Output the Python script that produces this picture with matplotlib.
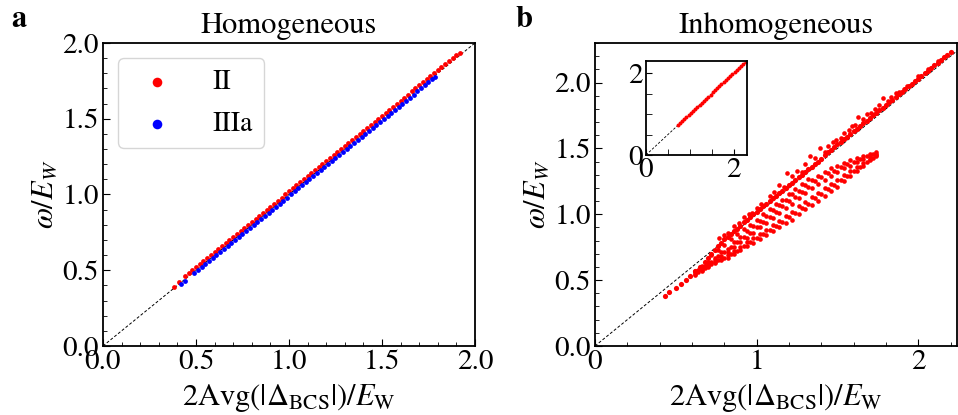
"""Gap vs. collective-mode energy, homogeneous and inhomogeneous cases."""

import matplotlib as mpl
import matplotlib.pyplot as plt
from matplotlib.ticker import FormatStrFormatter, MultipleLocator

RED = "#ff0000"
BLUE = "#0000ff"

# panel a: homogeneous, two solution classes
hom_II_x = [0.38, 0.41, 0.44, 0.46, 0.48, 0.50, 0.52, 0.54, 0.56, 0.58, 0.60,
            0.62, 0.64, 0.66, 0.68, 0.70, 0.72, 0.74, 0.76, 0.78, 0.80, 0.82,
            0.84, 0.86, 0.88, 0.90, 0.92, 0.94, 0.96, 0.98, 1.00, 1.02, 1.04,
            1.06, 1.08, 1.10, 1.12, 1.14, 1.16, 1.18, 1.20, 1.22, 1.24, 1.26,
            1.28, 1.30, 1.32, 1.34, 1.36, 1.38, 1.40, 1.42, 1.44, 1.46, 1.48,
            1.50, 1.52, 1.54, 1.56, 1.58, 1.60, 1.62, 1.64, 1.66, 1.68, 1.70,
            1.72, 1.74, 1.76, 1.78, 1.80, 1.82, 1.84, 1.86, 1.88, 1.90, 1.92]
hom_II_y = [0.39, 0.42, 0.46, 0.48, 0.50, 0.52, 0.54, 0.56, 0.58, 0.60, 0.62,
            0.64, 0.66, 0.68, 0.70, 0.72, 0.74, 0.76, 0.78, 0.80, 0.82, 0.84,
            0.86, 0.88, 0.90, 0.92, 0.94, 0.96, 0.98, 1.00, 1.02, 1.04, 1.06,
            1.08, 1.10, 1.12, 1.14, 1.16, 1.18, 1.20, 1.22, 1.24, 1.26, 1.28,
            1.30, 1.32, 1.34, 1.36, 1.38, 1.40, 1.42, 1.44, 1.46, 1.48, 1.50,
            1.52, 1.54, 1.56, 1.58, 1.60, 1.62, 1.64, 1.66, 1.68, 1.70, 1.72,
            1.74, 1.76, 1.78, 1.80, 1.82, 1.84, 1.86, 1.88, 1.90, 1.92, 1.935]
hom_IIIa_x = [0.42, 0.44, 0.49, 0.51, 0.53, 0.55, 0.57, 0.59, 0.61, 0.63,
              0.65, 0.67, 0.69, 0.71, 0.73, 0.75, 0.77, 0.79, 0.81, 0.83,
              0.85, 0.87, 0.89, 0.91, 0.93, 0.95, 0.97, 0.99, 1.01, 1.03,
              1.05, 1.07, 1.09, 1.11, 1.13, 1.15, 1.17, 1.19, 1.21, 1.23,
              1.25, 1.27, 1.29, 1.31, 1.33, 1.35, 1.37, 1.39, 1.41, 1.43,
              1.45, 1.47, 1.49, 1.51, 1.53, 1.55, 1.57, 1.59, 1.61, 1.63,
              1.65, 1.67, 1.69, 1.71, 1.73, 1.75, 1.77, 1.785]
hom_IIIa_y = [0.41, 0.43, 0.48, 0.50, 0.52, 0.54, 0.56, 0.58, 0.60, 0.62,
              0.64, 0.66, 0.68, 0.70, 0.72, 0.74, 0.76, 0.78, 0.80, 0.82,
              0.84, 0.86, 0.88, 0.90, 0.92, 0.94, 0.96, 0.98, 1.00, 1.02,
              1.04, 1.06, 1.08, 1.10, 1.12, 1.14, 1.16, 1.18, 1.20, 1.22,
              1.24, 1.26, 1.28, 1.30, 1.32, 1.34, 1.36, 1.38, 1.40, 1.42,
              1.44, 1.46, 1.48, 1.50, 1.52, 1.54, 1.56, 1.58, 1.60, 1.62,
              1.64, 1.66, 1.68, 1.70, 1.72, 1.74, 1.76, 1.775]

# panel b: inhomogeneous, upper band hugging the diagonal
inh_up_x = [0.43, 0.46, 0.50, 0.53, 0.56, 0.59, 0.62, 0.65, 0.68, 0.70, 0.72,
            0.74, 0.76, 0.78, 0.80, 0.82, 0.84, 0.86, 0.88, 0.90, 0.92, 0.94,
            0.96, 0.98, 1.00, 1.02, 1.04, 1.06, 1.08, 1.10, 1.12, 1.14, 1.16,
            1.18, 1.20, 1.22, 1.24, 1.26, 1.28, 1.30, 1.32, 1.34, 1.36, 1.38,
            1.40, 1.42, 1.44, 1.46, 1.48, 1.50, 1.52, 1.54, 1.56, 1.58, 1.60,
            1.62, 1.64, 1.66, 1.68, 1.70, 1.72, 1.74, 1.76, 1.78, 1.80, 1.82,
            1.84, 1.86, 1.88, 1.90, 1.92, 1.94, 1.96, 1.98, 2.00, 2.02, 2.04,
            2.06, 2.08, 2.10, 2.12, 2.14, 2.16, 2.18, 2.20]
inh_up_y = [0.38, 0.41, 0.44, 0.47, 0.50, 0.53, 0.57, 0.60, 0.64, 0.67, 0.70,
            0.73, 0.76, 0.78, 0.81, 0.83, 0.85, 0.87, 0.89, 0.91, 0.94, 0.96,
            0.98, 1.00, 1.02, 1.04, 1.06, 1.08, 1.10, 1.12, 1.14, 1.16, 1.18,
            1.20, 1.22, 1.24, 1.26, 1.28, 1.30, 1.32, 1.34, 1.36, 1.38, 1.40,
            1.42, 1.45, 1.47, 1.49, 1.51, 1.53, 1.55, 1.57, 1.59, 1.61, 1.63,
            1.65, 1.67, 1.69, 1.71, 1.73, 1.75, 1.77, 1.79, 1.81, 1.83, 1.85,
            1.87, 1.89, 1.91, 1.93, 1.95, 1.97, 1.99, 2.01, 2.03, 2.05, 2.07,
            2.09, 2.11, 2.13, 2.15, 2.17, 2.19, 2.21, 2.235]
# short streaks sitting just above the upper band
inh_streak_x = [0.77, 0.82, 0.86, 0.92, 0.97, 1.03, 1.08, 1.14, 1.19, 1.25,
                1.30, 1.33, 1.39, 1.44, 1.49, 1.54, 1.59, 1.63, 1.68, 1.73,
                1.78, 1.83, 1.88, 1.93, 0.80, 0.95, 1.11, 1.22, 1.36, 1.47,
                1.57, 1.66, 1.76, 1.86, 0.89, 1.00, 1.17, 1.28, 1.42, 1.52,
                1.61, 1.71, 1.81, 1.91, 2.00, 2.06, 2.12]
inh_streak_y = [0.82, 0.86, 0.91, 0.98, 1.01, 1.08, 1.14, 1.22, 1.31, 1.33,
                1.38, 1.44, 1.50, 1.52, 1.56, 1.62, 1.67, 1.74, 1.76, 1.80,
                1.88, 1.89, 1.93, 1.97, 0.84, 1.00, 1.17, 1.29, 1.43, 1.55,
                1.64, 1.72, 1.83, 1.92, 0.93, 1.05, 1.21, 1.32, 1.47, 1.58,
                1.68, 1.77, 1.86, 1.95, 2.05, 2.10, 2.16]
# points just under the diagonal
inh_mid_x = [0.72, 0.76, 0.80, 0.84, 0.88, 0.92, 0.96, 1.00, 1.04, 1.08,
             1.12, 1.16, 1.20, 1.24, 1.28, 1.32]
inh_mid_y = [0.69, 0.73, 0.77, 0.81, 0.85, 0.89, 0.92, 0.96, 1.00, 1.04,
             1.08, 1.11, 1.15, 1.19, 1.23, 1.27]
# lower fan below the diagonal
inh_fan_x = [0.62, 0.66, 0.70, 0.74, 0.78, 0.82, 0.86, 0.90, 0.94, 0.98,
             1.02, 1.06, 1.10, 1.14, 1.18, 1.22, 1.26, 1.30, 1.34, 1.38,
             1.42, 1.46, 1.50, 1.54, 1.58, 1.62, 1.66, 1.70, 1.74]
inh_fan_y1 = [0.57, 0.61, 0.64, 0.67, 0.71, 0.74, 0.79, 0.83, 0.87, 0.91,
              0.95, 0.99, 1.03, 1.07, 1.11, 1.15, 1.18, 1.22, 1.26, 1.29,
              1.32, 1.35, 1.37, 1.39, 1.41, 1.43, 1.44, 1.46, 1.47]
inh_fan_y2 = [0.56, 0.59, 0.62, 0.65, 0.68, 0.71, 0.75, 0.79, 0.82, 0.86,
              0.90, 0.93, 0.97, 1.01, 1.05, 1.08, 1.12, 1.16, 1.20, 1.23,
              1.26, 1.29, 1.32, 1.35, 1.37, 1.40, 1.42, 1.44, 1.46]
inh_fan_y3 = [0.55, 0.58, 0.61, 0.64, 0.66, 0.69, 0.72, 0.75, 0.79, 0.82,
              0.85, 0.88, 0.92, 0.95, 0.99, 1.02, 1.06, 1.09, 1.13, 1.16,
              1.20, 1.23, 1.26, 1.30, 1.33, 1.36, 1.39, 1.42, 1.45]
inh_fan_y4 = [0.54, 0.57, 0.60, 0.63, 0.65, 0.67, 0.70, 0.73, 0.76, 0.78,
              0.81, 0.84, 0.87, 0.90, 0.93, 0.96, 1.00, 1.04, 1.07, 1.10,
              1.14, 1.18, 1.21, 1.25, 1.29, 1.33, 1.37, 1.41, 1.44]
# staggered rows in between
inh_fan_xb = [0.64, 0.68, 0.72, 0.76, 0.80, 0.84, 0.88, 0.92, 0.96, 1.00,
              1.04, 1.08, 1.12, 1.16, 1.20, 1.24, 1.28, 1.32, 1.36, 1.40,
              1.44, 1.48, 1.52, 1.56, 1.60, 1.64, 1.68, 1.72]
inh_fan_yb1 = [0.58, 0.61, 0.64, 0.68, 0.71, 0.75, 0.79, 0.83, 0.86, 0.90,
               0.94, 0.98, 1.02, 1.06, 1.10, 1.13, 1.17, 1.21, 1.25, 1.28,
               1.31, 1.33, 1.36, 1.38, 1.40, 1.42, 1.44, 1.46]
inh_fan_yb2 = [0.56, 0.59, 0.62, 0.65, 0.67, 0.70, 0.72, 0.76, 0.79, 0.82,
               0.85, 0.88, 0.91, 0.94, 0.98, 1.01, 1.05, 1.08, 1.12, 1.15,
               1.19, 1.22, 1.26, 1.29, 1.33, 1.36, 1.40, 1.43]

# inset of panel b
ins_x = [0.72, 0.77, 0.82, 0.87, 0.92, 0.97, 1.02, 1.07, 1.12, 1.17, 1.22,
         1.27, 1.32, 1.37, 1.42, 1.47, 1.52, 1.57, 1.62, 1.67, 1.72, 1.77,
         1.82, 1.87, 1.92, 1.97, 2.02, 2.07, 2.12, 2.17, 2.22, 2.27]
ins_y = [0.73, 0.78, 0.83, 0.88, 0.93, 0.98, 1.03, 1.08, 1.13, 1.18, 1.23,
         1.28, 1.33, 1.38, 1.43, 1.48, 1.53, 1.58, 1.63, 1.68, 1.73, 1.78,
         1.83, 1.88, 1.93, 1.98, 2.03, 2.08, 2.13, 2.18, 2.23, 2.28]

mpl.rcParams.update({
    "font.family": "STIXGeneral",
    "mathtext.fontset": "stix",
    "font.size": 21,
    "axes.linewidth": 1.3,
    "xtick.direction": "in",
    "ytick.direction": "in",
    "xtick.major.size": 5,
    "ytick.major.size": 5,
    "xtick.minor.size": 3,
    "ytick.minor.size": 3,
    "xtick.major.pad": 3,
    "ytick.major.pad": 3,
})

XLABEL = r"$2\mathrm{Avg}(|\Delta_{\mathrm{BCS}}|)/E_{\mathrm{W}}$"
YLABEL = r"$\omega/E_W$"

fig = plt.figure(figsize=(9.58, 4.15), dpi=100)
ax_a = fig.add_axes([0.1075, 0.1663, 0.3883, 0.7301])
ax_b = fig.add_axes([0.6211, 0.1663, 0.3779, 0.7301])
ax_in = fig.add_axes([0.6743, 0.6265, 0.1054, 0.2265])

# panel a
ax_a.plot([0, 2], [0, 2], "k--", lw=0.7, dashes=(3, 2), zorder=1)
ax_a.scatter(hom_II_x, hom_II_y, s=12, color=RED, lw=0, label="II", zorder=2)
ax_a.scatter(hom_IIIa_x, hom_IIIa_y, s=12, color=BLUE, lw=0, label="IIIa",
             zorder=3)
ax_a.set_xlim(0, 2)
ax_a.set_ylim(0, 2)
ax_a.xaxis.set_major_locator(MultipleLocator(0.5))
ax_a.yaxis.set_major_locator(MultipleLocator(0.5))
ax_a.xaxis.set_minor_locator(MultipleLocator(0.1))
ax_a.yaxis.set_minor_locator(MultipleLocator(0.1))
ax_a.xaxis.set_major_formatter(FormatStrFormatter("%.1f"))
ax_a.yaxis.set_major_formatter(FormatStrFormatter("%.1f"))
ax_a.set_xlabel(XLABEL, fontsize=22, labelpad=5)
ax_a.set_ylabel(YLABEL, fontsize=22, labelpad=2)
ax_a.set_title("Homogeneous", fontsize=22, pad=7)
ax_a.legend(loc="upper left", fontsize=20, markerscale=2.0, handlelength=2,
            handletextpad=1.0, borderaxespad=0.55, labelspacing=0.6)

# panel b
ax_b.plot([0, 2.4], [0, 2.4], "k--", lw=0.7, dashes=(3, 2), zorder=1)
fan_x = inh_fan_x * 4 + inh_fan_xb * 2
fan_y = inh_fan_y1 + inh_fan_y2 + inh_fan_y3 + inh_fan_y4 + inh_fan_yb1 + inh_fan_yb2
ax_b.scatter(fan_x, fan_y, s=11, color=RED, lw=0, zorder=2)
ax_b.scatter(inh_mid_x, inh_mid_y, s=11, color=RED, lw=0, zorder=2)
ax_b.scatter(inh_up_x, inh_up_y, s=14, color=RED, lw=0, zorder=2)
ax_b.scatter(inh_streak_x, inh_streak_y, s=11, color=RED, lw=0, zorder=2)
ax_b.set_xlim(0, 2.24)
ax_b.set_ylim(0, 2.3)
ax_b.xaxis.set_major_locator(MultipleLocator(1))
ax_b.xaxis.set_minor_locator(MultipleLocator(0.2))
ax_b.yaxis.set_major_locator(MultipleLocator(0.5))
ax_b.yaxis.set_minor_locator(MultipleLocator(0.1))
ax_b.yaxis.set_major_formatter(FormatStrFormatter("%.1f"))
ax_b.set_xlabel(XLABEL, fontsize=22, labelpad=5)
ax_b.set_ylabel(YLABEL, fontsize=22, labelpad=2)
ax_b.set_title("Inhomogeneous", fontsize=22, pad=7)

# inset
ax_in.plot([0, 2.3], [0, 2.3], "k--", lw=0.6, dashes=(3, 2), zorder=1)
ax_in.scatter(ins_x, ins_y, s=8, color=RED, lw=0, zorder=2)
ax_in.set_xlim(0, 2.3)
ax_in.set_ylim(0, 2.3)
ax_in.xaxis.set_major_locator(MultipleLocator(2))
ax_in.yaxis.set_major_locator(MultipleLocator(2))
ax_in.xaxis.set_minor_locator(MultipleLocator(0.5))
ax_in.yaxis.set_minor_locator(MultipleLocator(0.5))
ax_in.tick_params(which="both", length=4, labelsize=21, pad=2)

fig.text(0.012, 0.935, "a", fontsize=22, fontweight="bold")
fig.text(0.538, 0.935, "b", fontsize=22, fontweight="bold")

fig.savefig("out.png", dpi=100)
